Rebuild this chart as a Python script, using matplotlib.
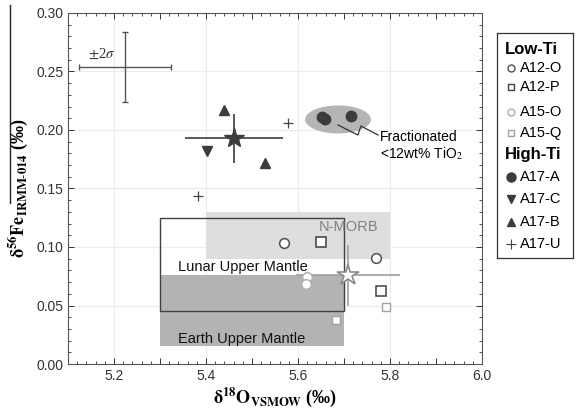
import matplotlib.pyplot as plt
import numpy as np
from matplotlib.patches import Rectangle, Ellipse
from matplotlib.lines import Line2D
from matplotlib.ticker import MultipleLocator, FuncFormatter

plt.rcParams['font.family'] = ['Liberation Sans', 'DejaVu Sans']
plt.rcParams['mathtext.fontset'] = 'stix'

# 数据 (delta18O, delta56Fe)
a12o_x = [5.570, 5.770]
a12o_y = [0.103, 0.091]
a12p_x = [5.650, 5.780]
a12p_y = [0.104, 0.062]
a15o_x = [5.620, 5.617]
a15o_y = [0.074, 0.068]
a15q_x = [5.683, 5.791]
a15q_y = [0.038, 0.049]
a17a_x = [5.652, 5.659, 5.715]
a17a_y = [0.211, 0.209, 0.212]
a17c_x = [5.402]
a17c_y = [0.182]
a17b_x = [5.439, 5.528]
a17b_y = [0.217, 0.172]
a17u_x = [5.578, 5.383]
a17u_y = [0.206, 0.144]

# 平均值及误差
high_mean = [5.461, 0.193]
high_err = [0.107, 0.021]
low_mean = [5.709, 0.076]
low_err = [0.113, 0.026]
sigma_pt = [5.224, 0.254]
sigma_err = [0.100, 0.030]

# 区域 (x0, x1, y0, y1)
lunar_box = [5.30, 5.70, 0.045, 0.125]
earth_box = [5.30, 5.70, 0.015, 0.076]
morb_box = [5.40, 5.80, 0.090, 0.130]
frac_ell = [5.687, 0.209, 0.143, 0.024]

fig = plt.figure(figsize=(5.77, 4.08), dpi=100)
ax = fig.add_axes([68 / 577, 44 / 408, 414 / 577, 351 / 408])

# 区域
ax.add_patch(Rectangle((morb_box[0], morb_box[2]), morb_box[1] - morb_box[0],
                       morb_box[3] - morb_box[2], fc='#dedede', ec='none', zorder=1))
ax.add_patch(Rectangle((earth_box[0], earth_box[2]), earth_box[1] - earth_box[0],
                       earth_box[3] - earth_box[2], fc='#b3b3b3', ec='none', zorder=1.1))
ax.add_patch(Rectangle((lunar_box[0], lunar_box[2]), lunar_box[1] - lunar_box[0],
                       lunar_box[3] - lunar_box[2], fc='none', ec='#404040', lw=1.0, zorder=1.2))
ax.add_patch(Ellipse((frac_ell[0], frac_ell[1]), frac_ell[2], frac_ell[3],
                     fc='#b5b5b5', ec='none', zorder=1))

ax.text(5.709, 0.117, 'N-MORB', color='#808080', fontsize=10.5, ha='center', va='center', zorder=2)
ax.text(5.34, 0.083, 'Lunar Upper Mantle', color='#111111', fontsize=10.5, ha='left', va='center', zorder=2)
ax.text(5.34, 0.021, 'Earth Upper Mantle', color='#111111', fontsize=10.5, ha='left', va='center', zorder=2)

# 误差棒
ax.errorbar(sigma_pt[0], sigma_pt[1], xerr=sigma_err[0], yerr=sigma_err[1], fmt='none',
            ecolor='#555555', elinewidth=1.0, capsize=2.5, zorder=3)
ax.text(5.172, 0.265, r'$\pm$2$\sigma$', fontsize=10.5, ha='center', va='center', color='#333333',
        family=['Liberation Serif', 'DejaVu Serif'])
ax.errorbar(high_mean[0], high_mean[1], xerr=high_err[0], yerr=high_err[1], fmt='*',
            ms=15, mfc='#3c3c3c', mec='#3c3c3c', ecolor='#3c3c3c', elinewidth=1.2, zorder=4)
ax.errorbar(low_mean[0], low_mean[1], xerr=low_err[0], yerr=low_err[1], fmt='none',
            ecolor='#a0a0a0', elinewidth=1.2, zorder=4)
ax.plot(low_mean[0], low_mean[1], '*', ms=16, mfc='white', mec='#8a8a8a', mew=1.2, zorder=5)

# 数据点
ax.plot(a12o_x, a12o_y, 'o', ms=7, mfc='white', mec='#505050', mew=1.1, zorder=5)
ax.plot(a12p_x, a12p_y, 's', ms=7, mfc='white', mec='#404040', mew=1.1, zorder=5)
ax.plot(a15o_x, a15o_y, 'o', ms=7, mfc='white', mec='#b0b0b0', mew=1.1, zorder=5)
ax.plot(a15q_x, a15q_y, 's', ms=5.5, mfc='white', mec='#a0a0a0', mew=1.0, zorder=5)
ax.plot(a17a_x, a17a_y, 'o', ms=7.5, mfc='#3c3c3c', mec='#3c3c3c', zorder=5)
ax.plot(a17c_x, a17c_y, 'v', ms=7, mfc='#3c3c3c', mec='#3c3c3c', zorder=5)
ax.plot(a17b_x, a17b_y, '^', ms=7, mfc='#3c3c3c', mec='#3c3c3c', zorder=5)
ax.plot(a17u_x, a17u_y, '+', ms=7, mec='#444444', mew=0.9, zorder=5)

# 标注
ax.plot([5.687, 5.730, 5.737, 5.774], [0.2043, 0.1957, 0.2034, 0.1957],
        color='#333333', lw=0.9, zorder=5)
ax.text(5.778, 0.186, 'Fractionated\n<12wt% TiO$_2$', fontsize=10, ha='left', va='center',
        linespacing=1.1)

# 坐标轴
ax.set_xlim(5.1, 6.0)
ax.set_ylim(0.0, 0.30)
xmaj = np.arange(5.1, 6.001, 0.1)
ax.set_xticks(xmaj)
ax.set_xticklabels(['' if round(v * 10) % 2 else f'{v:.1f}' for v in xmaj])
ax.xaxis.set_minor_locator(MultipleLocator(0.02))
ax.yaxis.set_major_locator(MultipleLocator(0.05))
ax.yaxis.set_minor_locator(MultipleLocator(0.01))
ax.yaxis.set_major_formatter(FuncFormatter(lambda v, p: f'{v:.2f}'))
ax.tick_params(which='both', direction='in', top=True, right=True, labelsize=10, colors='#333333')
ax.tick_params(which='major', length=4, width=0.7)
ax.tick_params(which='minor', length=2.5, width=0.6)
for v in [5.2, 5.4, 5.6, 5.8]:
    ax.axvline(v, color='#ececec', lw=0.8, zorder=0)
for v in [0.05, 0.10, 0.15, 0.20, 0.25]:
    ax.axhline(v, color='#ececec', lw=0.8, zorder=0)
for s in ax.spines.values():
    s.set_color('#555555')
    s.set_linewidth(0.8)

lab_font = dict(family=['Liberation Serif', 'DejaVu Serif'], fontsize=13, fontweight='bold')
ax.set_xlabel(r'$\mathbf{\delta^{18}O_{VSMOW}}$ (‰)', labelpad=2, **lab_font)
ax.set_ylabel(r'$\mathbf{\delta^{56}Fe_{IRMM\text{-}014}}$ (‰)', labelpad=4, **lab_font)
fig.add_artist(Line2D([10 / 577, 10 / 577], [1 - 5 / 408, 1 - 203 / 408], color='#222222', lw=1.0))

# 图例 (手动绘制)
lg = fig.add_axes([497 / 577, (408 - 258) / 408, 76 / 577, 225 / 408])
lg.set_xlim(0, 76)
lg.set_ylim(225, 0)
lg.set_xticks([])
lg.set_yticks([])
for s in lg.spines.values():
    s.set_color('#333333')
    s.set_linewidth(0.9)

rows = [
    ('Low-Ti', None, {}),
    ('A12-O', 'o', dict(mfc='white', mec='#505050', ms=5)),
    ('A12-P', 's', dict(mfc='white', mec='#404040', ms=5)),
    ('A15-O', 'o', dict(mfc='white', mec='#b0b0b0', ms=5)),
    ('A15-Q', 's', dict(mfc='white', mec='#a0a0a0', ms=5)),
    ('High-Ti', None, {}),
    ('A17-A', 'o', dict(mfc='#3c3c3c', mec='#3c3c3c', ms=6.5)),
    ('A17-C', 'v', dict(mfc='#3c3c3c', mec='#3c3c3c', ms=5.5)),
    ('A17-B', '^', dict(mfc='#3c3c3c', mec='#3c3c3c', ms=5.5)),
    ('A17-U', '+', dict(mec='#444444', ms=7, mew=0.8)),
]
row_y = [17, 35, 54, 79, 100, 122, 144, 166, 189, 211]
for (name, mk, kw), yy in zip(rows, row_y):
    if mk is None:
        lg.text(8, yy, name, fontsize=12, fontweight='bold', ha='left', va='center')
    else:
        lg.plot(14, yy, mk, **kw)
        lg.text(22.5, yy, name, fontsize=10.5, ha='left', va='center')

fig.savefig('out.png', dpi=100)
